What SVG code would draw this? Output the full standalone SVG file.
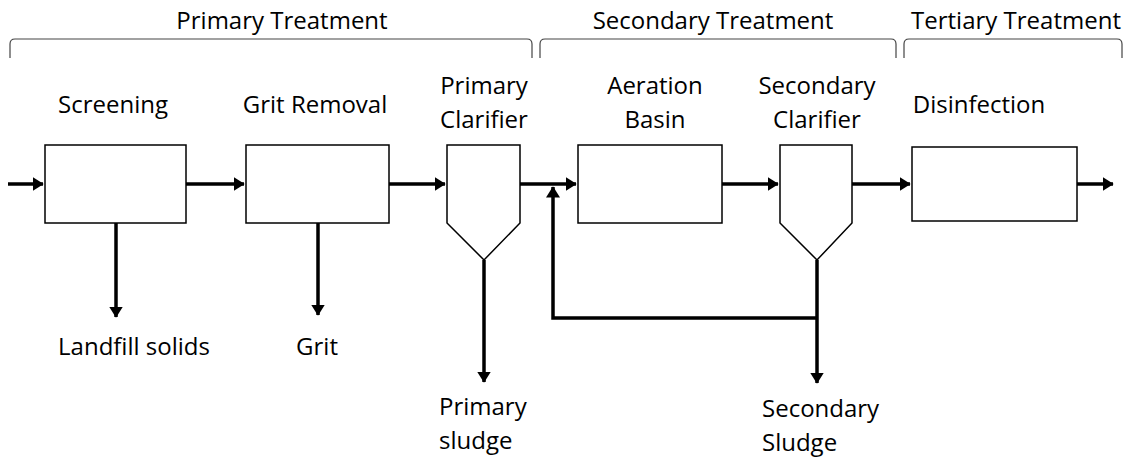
<svg xmlns="http://www.w3.org/2000/svg" width="1130" height="459" viewBox="0 0 1130 459">
<style>
text{font-family:"Open Sans","Liberation Sans",sans-serif;font-size:24px;fill:#000;text-anchor:middle}
.l{text-anchor:start}
.node{fill:#fff;stroke:#000;stroke-width:1.5}
.brace{fill:none;stroke:#444;stroke-width:1.2}
.flow{fill:none;stroke:#000;stroke-width:3.5}
</style>
<defs>
<marker id="ah" markerWidth="4" markerHeight="4" refX="3" refY="2" orient="auto" markerUnits="strokeWidth">
<path d="M0,0 L3.2,2 L0,4 z" fill="#000"/>
</marker>
</defs>
<g id="braces">
<path class="brace" d="M10,58 V44 Q10,39 15,39 H527 Q532,39 532,44 V58"/>
<path class="brace" d="M540,58 V44 Q540,39 545,39 H891 Q896,39 896,44 V58"/>
<path class="brace" d="M904,58 V44 Q904,39 909,39 H1117 Q1122,39 1122,44 V58"/>
<text x="282" y="29">Primary Treatment</text>
<text x="713" y="29">Secondary Treatment</text>
<text x="1016" y="29">Tertiary Treatment</text>
</g>
<g id="connectors">
<path class="flow" marker-end="url(#ah)" d="M8,184 H43"/>
<path class="flow" marker-end="url(#ah)" d="M186,184 H244"/>
<path class="flow" marker-end="url(#ah)" d="M389,184 H445"/>
<path class="flow" marker-end="url(#ah)" d="M520,184 H576"/>
<path class="flow" marker-end="url(#ah)" d="M722,184 H778"/>
<path class="flow" marker-end="url(#ah)" d="M852,184 H910"/>
<path class="flow" marker-end="url(#ah)" d="M1077,184 H1113"/>
<path class="flow" marker-end="url(#ah)" d="M116,223 V317"/>
<path class="flow" marker-end="url(#ah)" d="M318,223 V315"/>
<path class="flow" marker-end="url(#ah)" d="M484,260 V382"/>
<path class="flow" marker-end="url(#ah)" d="M817,260 V383"/>
<path class="flow" marker-end="url(#ah)" d="M817,318 H553 V187"/>
</g>
<g id="screening">
<rect class="node" x="45" y="145" width="141" height="78"/>
<text x="113" y="113">Screening</text>
</g>
<g id="grit-removal">
<rect class="node" x="246" y="145" width="143" height="78"/>
<text x="315" y="113">Grit Removal</text>
</g>
<g id="primary-clarifier">
<path class="node" d="M447,145 H520 V223 L484,260 L447,223 Z"/>
<text x="484" y="94">Primary</text>
<text x="484" y="128">Clarifier</text>
</g>
<g id="aeration-basin">
<rect class="node" x="578" y="145" width="144" height="78"/>
<text x="655" y="94">Aeration</text>
<text x="655" y="128">Basin</text>
</g>
<g id="secondary-clarifier">
<path class="node" d="M780,145 H852 V223 L817,260 L780,223 Z"/>
<text x="817" y="94">Secondary</text>
<text x="817" y="128">Clarifier</text>
</g>
<g id="disinfection">
<rect class="node" x="912" y="147" width="165" height="74"/>
<text x="979" y="113">Disinfection</text>
</g>
<g id="outputs">
<text x="134" y="355">Landfill solids</text>
<text x="317" y="355">Grit</text>
<text class="l" x="439" y="415">Primary</text>
<text class="l" x="439" y="449">sludge</text>
<text class="l" x="762" y="417">Secondary</text>
<text class="l" x="762" y="451">Sludge</text>
</g>
</svg>
